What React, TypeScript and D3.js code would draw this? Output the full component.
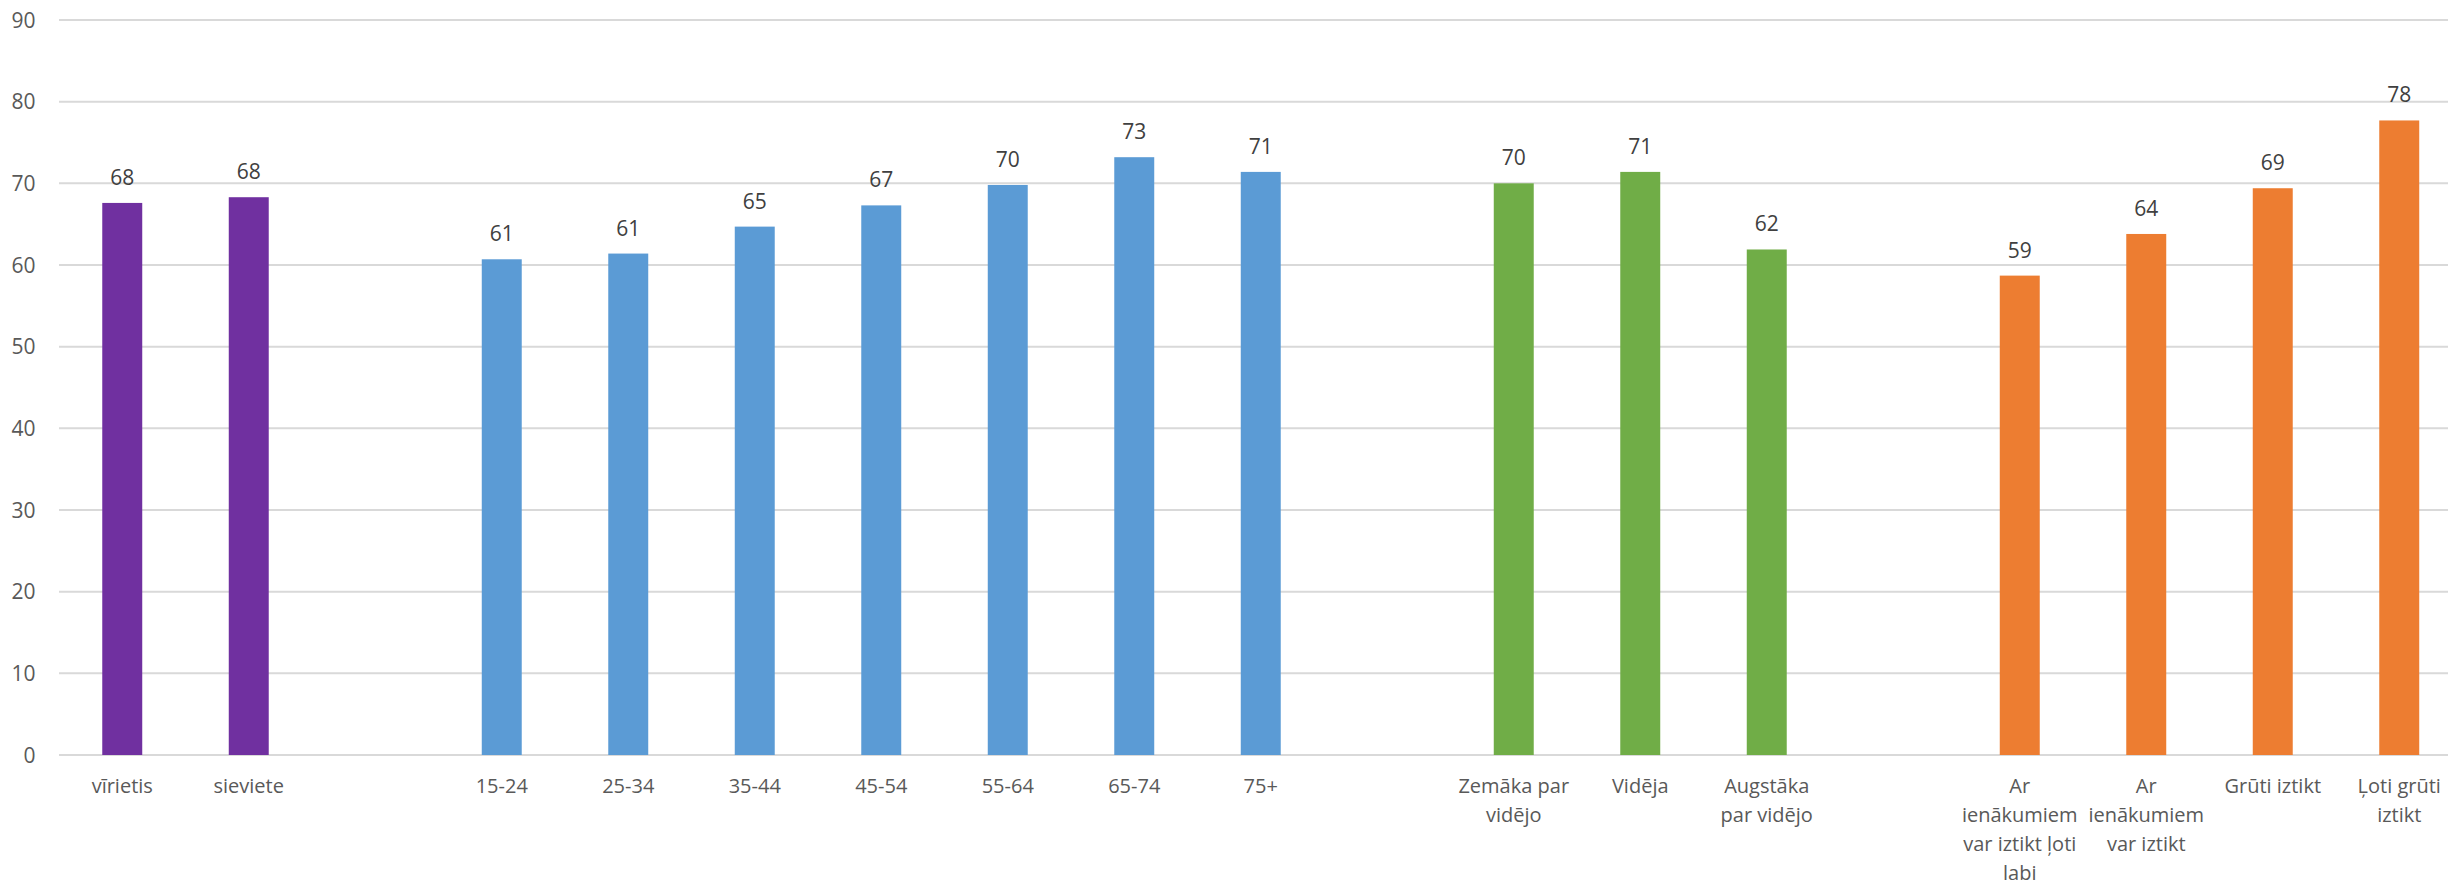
import React from "react";
import * as d3 from "d3";

const genderLabels = ["vīrietis", "sieviete"];
const genderValues = [67.6, 68.3];
const ageLabels = ["15-24", "25-34", "35-44", "45-54", "55-64", "65-74", "75+"];
const ageValues = [60.7, 61.4, 64.7, 67.3, 69.8, 73.2, 71.4];
const eduLabels = ["Zemāka par\nvidējo", "Vidēja", "Augstāka\npar vidējo"];
const eduValues = [70.0, 71.4, 61.9];
const incomeLabels = [
  "Ar\nienākumiem\nvar iztikt ļoti\nlabi",
  "Ar\nienākumiem\nvar iztikt",
  "Grūti iztikt",
  "Ļoti grūti\niztikt",
];
const incomeValues = [58.7, 63.8, 69.4, 77.7];
const yTicks = [0, 10, 20, 30, 40, 50, 60, 70, 80, 90];

const groupColors = ["#7030A0", "#5B9BD5", "#70AD47", "#ED7D31"];

type Slot = { key: string; label: string; value: number | null; color: string };

const groups = [
  { labels: genderLabels, values: genderValues },
  { labels: ageLabels, values: ageValues },
  { labels: eduLabels, values: eduValues },
  { labels: incomeLabels, values: incomeValues },
];

const slots: Slot[] = [];
groups.forEach((g, gi) => {
  if (gi > 0) slots.push({ key: `gap${gi}`, label: "", value: null, color: "none" });
  g.labels.forEach((l, i) =>
    slots.push({ key: `g${gi}-${i}`, label: l, value: g.values[i], color: groupColors[gi] })
  );
});

const W = 2448;
const H = 884;
const FONT = "'Open Sans', 'Noto Sans', sans-serif";

export default function App() {
  const left = 59;
  const step = 126.5;
  const x = d3
    .scaleBand<string>()
    .domain(slots.map((s) => s.key))
    .range([left, left + step * slots.length])
    .paddingInner(0.684)
    .paddingOuter(0.342);
  const y = d3.scaleLinear().domain([0, 90]).range([755, 20]);

  return (
    <svg
      width={W}
      height={H}
      style={{ position: "absolute", left: 0, top: 0, background: "#fff" }}
      fontFamily={FONT}
    >
      <rect x={0} y={0} width={W} height={H} fill="#fff" />
      {yTicks.map((t) => (
        <g key={t}>
          <line x1={left} x2={W} y1={y(t)} y2={y(t)} stroke="#d9d9d9" strokeWidth={2} />
          <text
            x={35.5}
            y={y(t)}
            dy="0.36em"
            textAnchor="end"
            fontSize={21}
            fill="#595959"
          >
            {t}
          </text>
        </g>
      ))}
      {slots
        .filter((s) => s.value !== null)
        .map((s) => {
          const bx = x(s.key)!;
          const bw = x.bandwidth();
          const v = s.value as number;
          const cx = bx + bw / 2;
          return (
            <g key={s.key}>
              <rect x={bx} y={y(v)} width={bw} height={y(0) - y(v)} fill={s.color} />
              <text
                x={cx}
                y={y(v) - 18}
                textAnchor="middle"
                fontSize={21}
                fill="#404040"
              >
                {Math.round(v)}
              </text>
              <text textAnchor="middle" fontSize={20} fill="#595959">
                {s.label.split("\n").map((line, li) => (
                  <tspan key={li} x={cx} y={792.5 + li * 29}>
                    {line}
                  </tspan>
                ))}
              </text>
            </g>
          );
        })}
    </svg>
  );
}
